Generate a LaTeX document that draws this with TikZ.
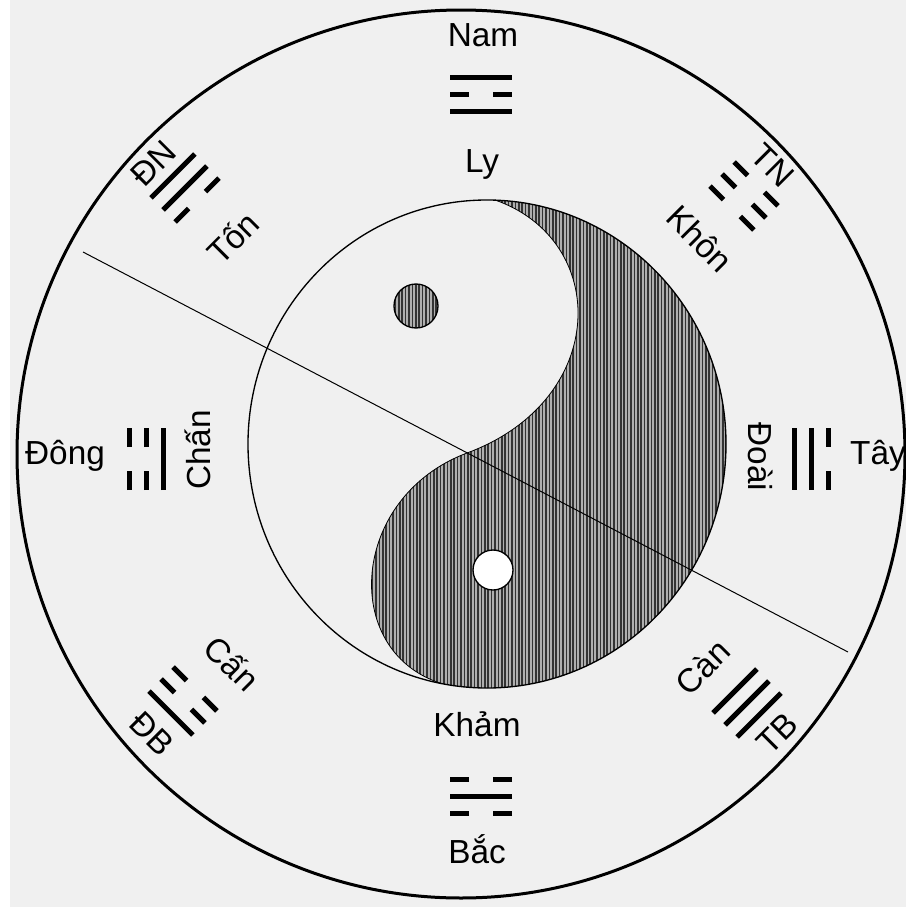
\documentclass[tikz,border=0pt]{standalone}
\usepackage{fontspec}
\setmainfont{Liberation Sans}

\definecolor{paper}{RGB}{240,240,240}
\definecolor{hatchgray}{RGB}{175,175,175}

% trigram: centre, rotation, lines from outer to inner (1 = solid)
\newcommand{\quai}[5]{%
  \begin{scope}[shift={#1}, rotate=#2]
    \foreach \bit [count=\lvl] in {#3,#4,#5} {
      \pgfmathsetmacro{\yl}{(\lvl-2)*17}
      \ifnum\bit=1
        \draw[yao] (-31,\yl) -- (31,\yl);
      \else
        \draw[yao] (-31,\yl) -- (-12,\yl) (12,\yl) -- (31,\yl);
      \fi
    }
  \end{scope}}

\begin{document}
\begin{tikzpicture}[
  x=0.75pt, y=-0.75pt,
  lbl/.style={font=\fontsize{25}{29}\selectfont, inner sep=0pt, text height=17.9pt, text depth=0pt},
  yao/.style={line width=3.75pt},
  hatch/.style={line width=1.1pt, black!80},
]
\useasboundingbox (0,0) rectangle (906,907);
\fill[paper] (0,0) rectangle (906,907);
\fill[white] (0,0) rectangle (10,907);

% outer ring
\coordinate (o) at (461,454);
\draw[line width=2.25pt] (o) circle [radius=444];

% yin-yang
\coordinate (yy) at (487,444);
\coordinate (top) at (495,200);
\coordinate (mid) at (467,453);
\coordinate (bot) at (440,683);
\begin{scope}
  \clip (yy) ellipse [x radius=239, y radius=244];
  \clip (780,150) -- (495,150) -- (top) .. controls (610,240) and (610,400) .. (mid)
        .. controls (350,497) and (340,650) .. (bot) -- (440,760) -- (780,760) -- cycle;
  \fill[hatchgray] (240,190) rectangle (730,700);
  \foreach \x in {240,243.4,...,730} \draw[hatch] (\x,190) -- (\x,700);
\end{scope}
\draw[line width=0.6pt] (top) .. controls (610,240) and (610,400) .. (mid)
      .. controls (350,497) and (340,650) .. (bot);
\draw[line width=1pt] (yy) ellipse [x radius=239, y radius=244];

% eyes
\coordinate (darkeye) at (416,306);
\coordinate (lighteye) at (493,570);
\begin{scope}
  \clip (darkeye) circle [radius=22];
  \fill[hatchgray] (390,280) rectangle (442,332);
  \foreach \x in {392,395.4,...,442} \draw[hatch] (\x,280) -- (\x,332);
\end{scope}
\draw[line width=1pt] (darkeye) circle [radius=22];
\draw[line width=1pt, fill=white] (lighteye) circle [radius=20];

% axis line
\coordinate (nw) at (83,252);
\coordinate (se) at (848,652);
\draw[line width=0.75pt] (nw) -- (se);

% directions and trigram names
\node[lbl] (nam) at (483,35) {Nam};
\node[lbl] (ly) at (482,161) {Ly};
\node[lbl] (kham) at (477,725) {Khảm};
\node[lbl] (bac) at (477,852) {Bắc};
\node[lbl] (dong) at (65,453) {Đông};
\node[lbl, rotate=90] (chan) at (199,450) {Chấn};
\node[lbl, rotate=-90] (doai) at (760,457) {Đoài};
\node[lbl] (tay) at (878,453) {Tây};
\node[lbl, rotate=45] (dn) at (153,163) {ĐN};
\node[lbl, rotate=45] (ton) at (233,238) {Tốn};
\node[lbl, rotate=-45] (tn) at (773,165) {TN};
\node[lbl, rotate=-45] (khon) at (700,239) {Khôn};
\node[lbl, rotate=-45] (canson) at (232,664) {Cấn};
\node[lbl, rotate=-45] (db) at (152,733) {ĐB};
\node[lbl, rotate=45] (canthien) at (703,667) {Càn};
\node[lbl, rotate=45] (tb) at (777,733) {TB};

% trigrams
\quai{(481,94)}{0}{1}{0}{1}      % Ly
\quai{(744,196)}{-45}{0}{0}{0}   % Khon
\quai{(811,459)}{-90}{0}{1}{1}   % Doai
\quai{(747,703)}{-135}{1}{1}{1}  % Can
\quai{(481,796)}{180}{0}{1}{0}   % Kham
\quai{(183,701)}{135}{1}{0}{0}   % Can (son)
\quai{(146,459)}{90}{0}{0}{1}    % Chan
\quai{(185,188)}{45}{1}{1}{0}    % Ton
\end{tikzpicture}
\end{document}
